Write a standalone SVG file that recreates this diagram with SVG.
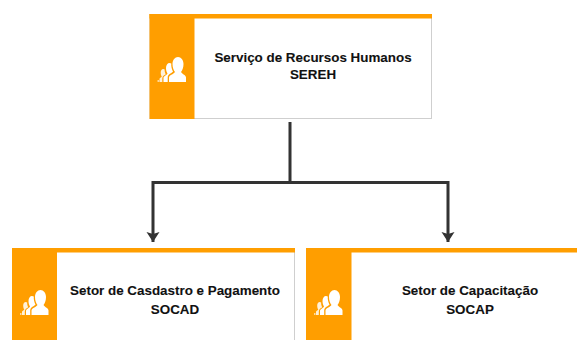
<svg xmlns="http://www.w3.org/2000/svg" width="577" height="340" viewBox="0 0 577 340">
<style>
.panel{fill:#fff;stroke:#cfcfcf;stroke-width:1}
.band{fill:#ff9e00}
.t{font-family:"Liberation Sans",Arial,sans-serif;font-size:13.4px;font-weight:700;fill:#111;text-anchor:middle;stroke:#111;stroke-width:.1}
.c{fill:none;stroke:#333;stroke-width:3}
</style>
<defs>
<marker id="arrow" markerUnits="userSpaceOnUse" markerWidth="10" markerHeight="14" refX="10" refY="7" orient="auto" viewBox="0 0 10 14"><path d="M10 7L0 .5L2 7L0 13.500Z" fill="#333"/></marker>
<g id="icon" fill="#fff">
<path d="M14 30V25.500C14 23 18.500 22.500 20 20C18.500 18 17.500 15.500 17.500 12C17.500 8 20 5 23 5C26 5 28.500 8 28.500 12C28.500 15.500 27.500 18 26 20C27.500 22.500 31 23 31 25.500V30Z"/>
<path d="M8.500 30V26C8.500 24 11.500 23.500 12.500 21.500C11.500 20 11 18 11 16C11 13 12.500 11 14.500 11C15.200 11 15.800 11.200 16.300 11.600C16 14.500 16.800 17.500 18 19.800C16 21.500 12.700 22.500 12.700 25.500V30Z"/>
<path d="M4.500 30V27C4.500 26 6 25.500 6.800 24.500C6 23.500 5.700 22 5.700 20.500C5.700 18.500 6.800 17 8.200 17C8.800 17 9.300 17.200 9.700 17.600C9.500 19.500 10 21 10.800 22.200C9.300 23.300 7.300 24 7.300 26.500V30Z" opacity=".85"/>
<rect x="2.500" y="28" width="1.500" height="2" opacity=".6"/>
</g>
</defs>
<rect width="577" height="340" fill="#fff"/>
<g id="connectors">
<path class="c" d="M290 122V182.500H153V242" marker-end="url(#arrow)"/>
<path class="c" d="M290 182.500H448V242" marker-end="url(#arrow)"/>
</g>
<g id="sereh">
<rect class="panel" x="150" y="14.500" width="281.500" height="104"/>
<rect class="band" x="149.500" y="14" width="282.500" height="4.500"/>
<rect class="band" x="149.500" y="14" width="45" height="105"/>
<use href="#icon" x="155" y="52"/>
<text class="t" x="313" y="62">Serviço de Recursos Humanos</text>
<text class="t" x="313" y="78.500">SEREH</text>
</g>
<g id="socad">
<rect class="panel" x="12.500" y="248.500" width="282" height="100"/>
<rect class="band" x="12" y="248" width="283" height="4.500"/>
<rect class="band" x="12" y="248" width="45" height="92"/>
<use href="#icon" x="17.500" y="285"/>
<text class="t" x="175" y="295">Setor de Casdastro e Pagamento</text>
<text class="t" x="175" y="313.500">SOCAD</text>
</g>
<g id="socap">
<rect class="panel" x="306.500" y="248.500" width="282" height="100"/>
<rect class="band" x="306" y="248" width="271" height="4.500"/>
<rect class="band" x="306" y="248" width="45.500" height="92"/>
<use href="#icon" x="311.500" y="285"/>
<text class="t" x="470" y="295">Setor de Capacitação</text>
<text class="t" x="470" y="313.500">SOCAP</text>
</g>
</svg>
